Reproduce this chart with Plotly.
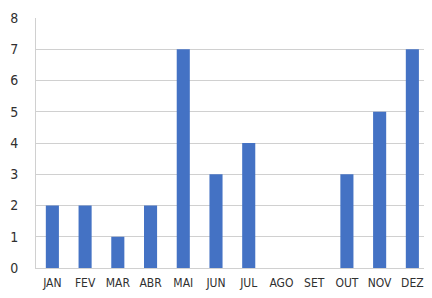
import plotly.graph_objects as go

months = ["JAN", "FEV", "MAR", "ABR", "MAI", "JUN", "JUL", "AGO", "SET", "OUT", "NOV", "DEZ"]
values = [2, 2, 1, 2, 7, 3, 4, 0, 0, 3, 5, 7]
y_ticks = [0, 1, 2, 3, 4, 5, 6, 7, 8]

fig = go.Figure(go.Bar(x=months, y=values, marker=dict(color="#4472C4", line=dict(width=0))))

# the page's body has an 8px margin, so the figure is sized/offset to compensate
fig.update_layout(
    width=424, height=290,
    margin=dict(l=28, r=0, t=10, b=30, autoexpand=False),
    paper_bgcolor="white", plot_bgcolor="white",
    bargap=0.6,
    showlegend=False,
    font=dict(family="DejaVu Sans Condensed, Liberation Sans, Arial", size=14, color="#404040"),
)
fig.update_xaxes(
    range=[-0.5, 11.6], automargin=False,
    showgrid=False, showline=True, linecolor="#D0D0D0", linewidth=1,
    ticks="", ticklabelstandoff=4, tickfont=dict(size=12, color="#303030"),
)
fig.update_yaxes(
    range=[0, 8], tickvals=y_ticks, automargin=False,
    showgrid=True, gridcolor="#D0D0D0", gridwidth=1,
    zeroline=False, showline=True, linecolor="#D0D0D0", linewidth=1,
    ticks="", ticklabelstandoff=14, tickfont=dict(size=14, color="#303030"),
)
fig.write_html("out.html")
